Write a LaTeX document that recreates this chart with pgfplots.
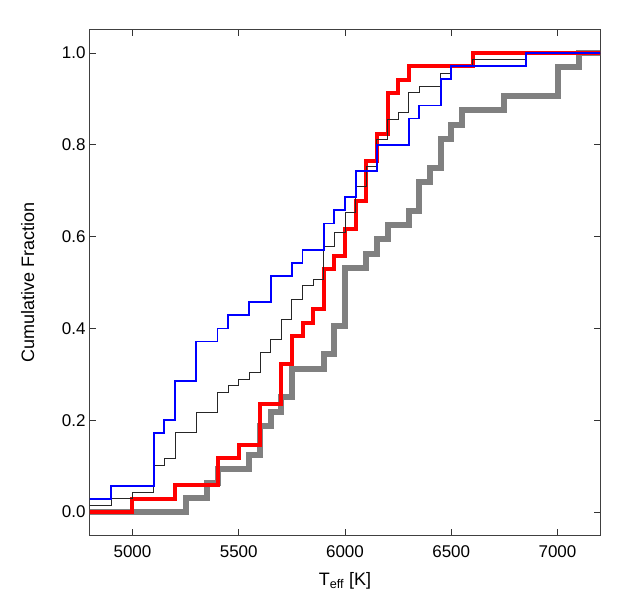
\documentclass[border=0pt]{standalone}
\usepackage{pgfplots}
\pgfplotsset{compat=1.18}
\usepackage{fontspec}
\setmainfont{Liberation Sans}
\begin{document}
\begin{tikzpicture}
\begin{axis}[
  scale only axis,
  width=510bp, height=505bp,
  xmin=4800, xmax=7200, ymin=-0.05, ymax=1.05,
  xtick={5000,5500,6000,6500,7000},
  ytick={0,0.2,0.4,0.6,0.8,1.0},
  tick align=inside,
  major tick length=6bp,
  tick style={black!80, line width=0.8bp},
  axis line style={black!75, line width=1bp},
  xticklabel style={yshift=-7bp},
  yticklabel style={xshift=-1bp},
  /pgf/number format/assume math mode=true,
  x tick label style={/pgf/number format/1000 sep={}},
  y tick label style={/pgf/number format/.cd, fixed, fixed zerofill, precision=1},
  tick label style={font=\fontsize{17bp}{19bp}\selectfont},
  label style={font=\fontsize{18bp}{21bp}\selectfont},
  xlabel={T\textsubscript{eff} [K]},
  ylabel={Cumulative Fraction},
  xlabel style={at={(axis description cs:0.5,-0.091)}, anchor=center},
  ylabel style={at={(axis description cs:-0.122,0.5)}, anchor=center},
  const plot,
]
% grey, N=32
\addplot[color=black!50, line width=6bp] coordinates {
(4700,0) (5250,0.03125) (5350,0.0625) (5400,0.09375) (5550,0.125) (5600,0.1875)
(5650,0.21875) (5700,0.25) (5750,0.3125) (5900,0.34375) (5950,0.40625) (6000,0.53125)
(6100,0.5625) (6150,0.59375) (6200,0.625) (6300,0.65625) (6350,0.71875) (6400,0.75)
(6450,0.8125) (6500,0.84375) (6550,0.875) (6750,0.90625) (7000,0.96875) (7100,1.0) (7300,1.0)
};
% red, N=34
\addplot[color=red, line width=4bp] coordinates {
(4700,0) (5000,0.0294) (5200,0.0588) (5400,0.1176) (5500,0.1471) (5600,0.2353)
(5700,0.3235) (5750,0.3824) (5800,0.4118) (5850,0.4412) (5900,0.5294) (5950,0.5588)
(6000,0.6176) (6050,0.6765) (6100,0.7647) (6150,0.8235) (6200,0.9118) (6250,0.9412)
(6300,0.9706) (6600,1.0) (7300,1.0)
};
% black thin, N=69
\addplot[color=black!85, line width=0.8bp] coordinates {
(4700,0.0145) (4900,0.0290) (5000,0.0435) (5100,0.1014) (5150,0.1159) (5200,0.1739)
(5300,0.2174) (5400,0.2609) (5450,0.2754) (5500,0.2899) (5550,0.3043) (5600,0.3478)
(5650,0.3768) (5700,0.4203) (5750,0.4638) (5800,0.4928) (5850,0.5072) (5900,0.5797)
(5950,0.6087) (6000,0.6522) (6050,0.7101) (6100,0.7536) (6150,0.8116) (6200,0.8551)
(6250,0.8696) (6300,0.9130) (6350,0.9275) (6450,0.9565) (6500,0.9710) (6600,0.9855)
(6850,1.0) (7300,1.0)
};
% blue, N=35
\addplot[color=blue, line width=1.8bp] coordinates {
(4700,0.0286) (4900,0.0571) (5100,0.1714) (5150,0.2) (5200,0.2857) (5300,0.3714)
(5400,0.4) (5450,0.4286) (5550,0.4571) (5650,0.5143) (5750,0.5429) (5800,0.5714)
(5900,0.6286) (5950,0.6571) (6000,0.6857) (6050,0.7429) (6150,0.8) (6300,0.8571)
(6350,0.8857) (6450,0.9429) (6500,0.9714) (6850,1.0) (7300,1.0)
};
\end{axis}
\path (current axis.south west) ++(-90bp,-65bp) rectangle ++(642bp,600bp);
\end{tikzpicture}
\end{document}
